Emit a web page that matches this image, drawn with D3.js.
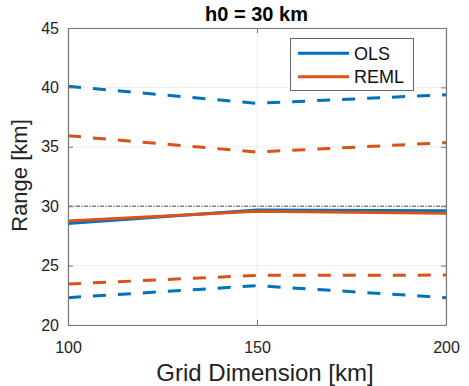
<!DOCTYPE html>
<html>
<head>
<meta charset="utf-8">
<script src="https://cdn.jsdelivr.net/npm/d3@7"></script>
<style>
  html, body { margin: 0; padding: 0; background: #fff; }
  svg { display: block; font-family: "Liberation Sans", Arial, Helvetica, sans-serif; }
</style>
</head>
<body>
<svg id="chart" width="469" height="386"></svg>
<script>
// Grid dimensions (km)
const gridDims = [100, 150, 200];

// Range estimates (km): mean and interval bounds for each method
const olsMean   = [28.55, 29.68, 29.62];
const olsUpper  = [40.1, 38.66, 39.38];
const olsLower  = [22.3, 23.31, 22.3];
const remlMean  = [28.75, 29.57, 29.4];
const remlUpper = [35.93, 34.56, 35.35];
const remlLower = [23.45, 24.18, 24.2];

const trueRange = 30;
const xTicks = [100, 150, 200];
const yTicks = [20, 25, 30, 35, 40, 45];

const blue = "#0072BD", orange = "#D95319";

const svg = d3.select("#chart");
const m = { left: 68, right: 446, top: 28, bottom: 325 };

const x = d3.scaleLinear().domain([100, 200]).range([m.left, m.right]);
const y = d3.scaleLinear().domain([20, 45]).range([m.bottom, m.top]);

// light grid
const grid = svg.append("g");
grid.selectAll("line.h").data(yTicks).join("line")
  .attr("x1", m.left).attr("x2", m.right)
  .attr("y1", d => y(d)).attr("y2", d => y(d))
  .attr("stroke", "#e8e8e8").attr("stroke-width", 0.8);
grid.selectAll("line.v").data(xTicks).join("line")
  .attr("y1", m.top).attr("y2", m.bottom)
  .attr("x1", d => x(d)).attr("x2", d => x(d))
  .attr("stroke", "#e8e8e8").attr("stroke-width", 0.8);

// reference line at the true range
svg.append("line")
  .attr("x1", m.left).attr("x2", m.right)
  .attr("y1", y(trueRange)).attr("y2", y(trueRange))
  .attr("stroke", "#444").attr("stroke-width", 1)
  .attr("stroke-dasharray", "4,1.5,1,1.5");

const line = d3.line().x((d, i) => x(gridDims[i])).y(d => y(d));

function series(vals, color, dashed) {
  svg.append("path").datum(vals)
    .attr("d", line)
    .attr("fill", "none")
    .attr("stroke", color)
    .attr("stroke-width", 3)
    .attr("stroke-dasharray", dashed ? "13,12" : null);
}
series(olsUpper, blue, true);
series(remlUpper, orange, true);
series(olsLower, blue, true);
series(remlLower, orange, true);
series(olsMean, blue, false);
series(remlMean, orange, false);

// axes box with inward ticks on all sides
const axisColor = "#777";
const xAxisB = d3.axisBottom(x).tickValues(xTicks).tickSizeInner(-5).tickSizeOuter(0).tickPadding(17);
const xAxisT = d3.axisTop(x).tickValues(xTicks).tickSizeInner(-5).tickSizeOuter(0).tickFormat("");
const yAxisL = d3.axisLeft(y).tickValues(yTicks).tickSizeInner(-5).tickSizeOuter(0).tickPadding(9);
const yAxisR = d3.axisRight(y).tickValues(yTicks).tickSizeInner(-5).tickSizeOuter(0).tickFormat("");

function styleAxis(g) {
  g.select(".domain").attr("stroke", axisColor).attr("stroke-width", 1.2);
  g.selectAll(".tick line").attr("stroke", axisColor);
  g.selectAll(".tick text").attr("fill", "#222").attr("font-size", 16)
    .attr("font-family", "Liberation Sans, Arial, sans-serif");
}
svg.append("g").attr("transform", `translate(0,${m.bottom})`).call(xAxisB).call(styleAxis);
svg.append("g").attr("transform", `translate(0,${m.top})`).call(xAxisT).call(styleAxis);
svg.append("g").attr("transform", `translate(${m.left},0)`).call(yAxisL).call(styleAxis);
svg.append("g").attr("transform", `translate(${m.right},0)`).call(yAxisR).call(styleAxis);

// title and axis labels
svg.append("text").attr("x", 256.5).attr("y", 21)
  .attr("text-anchor", "middle").attr("font-size", 20).attr("font-weight", "bold")
  .attr("fill", "#000").text("h0 = 30 km");
svg.append("text").attr("x", 265).attr("y", 381)
  .attr("text-anchor", "middle").attr("font-size", 24).attr("fill", "#222")
  .text("Grid Dimension [km]");
svg.append("text")
  .attr("transform", `translate(27,175.5) rotate(-90)`)
  .attr("text-anchor", "middle").attr("font-size", 22).attr("fill", "#222")
  .text("Range [km]");

// legend
const legend = svg.append("g");
legend.append("rect").attr("x", 290.5).attr("y", 38.5).attr("width", 123).attr("height", 52)
  .attr("fill", "#fff").attr("stroke", "#666").attr("stroke-width", 1);
const items = [{ name: "OLS", color: blue }, { name: "REML", color: orange }];
items.forEach((it, i) => {
  const ly = 53.3 + i * 23.4;
  legend.append("line").attr("x1", 298).attr("x2", 349).attr("y1", ly).attr("y2", ly)
    .attr("stroke", it.color).attr("stroke-width", 3);
  legend.append("text").attr("x", 354).attr("y", ly + 6.7).attr("font-size", 18)
    .attr("fill", "#111").text(it.name);
});
</script>
</body>
</html>
